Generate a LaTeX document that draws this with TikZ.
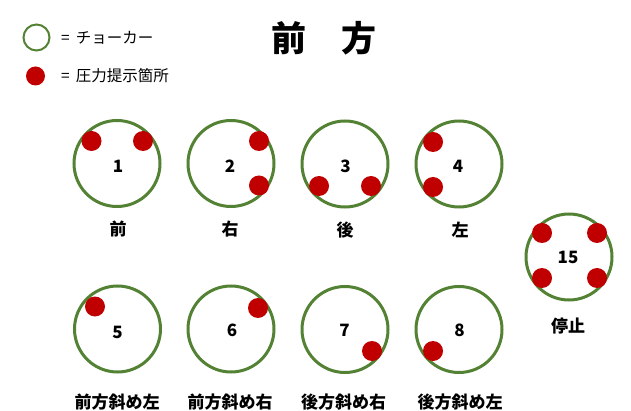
\documentclass[tikz,border=0pt]{standalone}
\usepackage{fontspec}
\newfontfamily\jp{Noto Sans CJK JP}
\definecolor{ring}{RGB}{84,130,53}
\definecolor{dotred}{RGB}{192,0,0}
\begin{document}
\begin{tikzpicture}[x=1pt,y=-1pt,
  choker/.style={circle,draw=ring,line width=3pt,minimum size=86pt,inner sep=0pt},
  press/.style={circle,fill=dotred,minimum size=20pt,inner sep=0pt},
  num/.style={font=\jp\bfseries\fontsize{17}{17}\selectfont,inner sep=0pt},
  lab/.style={font=\jp\bfseries\fontsize{17}{17}\selectfont,inner sep=0pt},
  legend/.style={font=\jp\fontsize{15.5}{15.5}\selectfont,inner sep=0pt,anchor=west}]
\useasboundingbox (0,0) rectangle (631,411);
% legend
\node[circle,draw=ring,line width=2pt,minimum size=26pt,inner sep=0pt] (lc) at (36.5,37.5) {};
\node[legend] (lct) at (61,38) {=\hspace{6pt}チョーカー};
\node[press,minimum size=19pt] (ld) at (35.5,76) {};
\node[legend] (ldt) at (61,76) {=\hspace{6pt}圧力提示箇所};
% title
\node[font=\jp\bfseries\fontsize{35}{35}\selectfont,inner sep=0pt] (title) at (324,38) {前　方};
% row 1
\node[choker] (c1) at (117,163.5) {};
\node[choker] (c2) at (231,163.5) {};
\node[choker] (c3) at (345,164) {};
\node[choker] (c4) at (459,164) {};
\node[choker] (c15) at (569,257) {};
\node[num] (n1) at (118,166.5) {1};
\node[num] (n2) at (230,166) {2};
\node[num] (n3) at (345.5,166.5) {3};
\node[num] (n4) at (458,166) {4};
\node[num] (n15) at (568,257) {15};
\node[press] (d1a) at ([shift={(-25.5,-22.5)}]c1.center) {};
\node[press] (d1b) at ([shift={(26,-22.5)}]c1.center) {};
\node[press] (d2a) at ([shift={(28,-22.5)}]c2.center) {};
\node[press] (d2b) at ([shift={(28,22)}]c2.center) {};
\node[press] (d3a) at ([shift={(-26,22)}]c3.center) {};
\node[press] (d3b) at ([shift={(26,22)}]c3.center) {};
\node[press] (d4a) at ([shift={(-26,-22)}]c4.center) {};
\node[press] (d4b) at ([shift={(-26,23)}]c4.center) {};
\node[press] (d15a) at ([shift={(-27,-24)}]c15.center) {};
\node[press] (d15b) at ([shift={(28,-24)}]c15.center) {};
\node[press] (d15c) at ([shift={(-27,21)}]c15.center) {};
\node[press] (d15d) at ([shift={(28,21)}]c15.center) {};
\node[lab] (l1) at (118,229) {前};
\node[lab] (l2) at (230,229) {右};
\node[lab] (l3) at (345,230) {後};
\node[lab] (l4) at (460,230) {左};
\node[lab] (l15) at (568,326.5) {停止};
% row 2
\node[choker] (c5) at (117.5,329) {};
\node[choker] (c6) at (231,329) {};
\node[choker] (c7) at (345,329.5) {};
\node[choker] (c8) at (459,329.5) {};
\node[num] (n5) at (117.5,332.5) {5};
\node[num] (n6) at (232,330) {6};
\node[num] (n7) at (344.5,330) {7};
\node[num] (n8) at (459.5,330) {8};
\node[press] (d5) at ([shift={(-22.5,-22.5)}]c5.center) {};
\node[press] (d6) at ([shift={(27,-21)}]c6.center) {};
\node[press] (d7) at ([shift={(27,21.5)}]c7.center) {};
\node[press] (d8) at ([shift={(-26,21.5)}]c8.center) {};
\node[lab] (l5) at (117,402.5) {前方斜め左};
\node[lab] (l6) at (230,402.5) {前方斜め右};
\node[lab] (l7) at (343.5,402.5) {後方斜め右};
\node[lab] (l8) at (460,402.5) {後方斜め左};
\end{tikzpicture}
\end{document}
